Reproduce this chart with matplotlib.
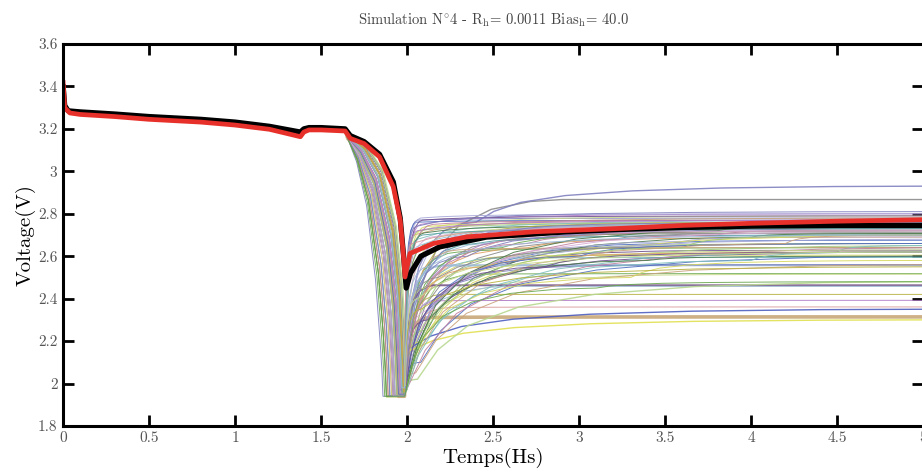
import numpy as np
import matplotlib
matplotlib.use("Agg")
import matplotlib.pyplot as plt
from matplotlib.ticker import FuncFormatter

#------------------------------------------#
# Data
# common part (black = mean, red = measured)
t_black = [0, 0.01, 0.03, 0.1, 0.3, 0.5, 0.8, 1.0, 1.2, 1.38, 1.40, 1.43, 1.5, 1.64, 1.67, 1.75,
           1.84, 1.92, 1.96, 1.98, 1.995, 2.02, 2.08, 2.19, 2.46, 2.93, 3.24, 3.6, 4.0, 4.5, 5.0]
v_black = [3.41, 3.31, 3.285, 3.28, 3.27, 3.258, 3.245, 3.232, 3.212, 3.185, 3.2, 3.206, 3.206, 3.2, 3.168, 3.14,
           3.08, 2.95, 2.78, 2.6, 2.45, 2.52, 2.6, 2.644, 2.69, 2.715, 2.726, 2.735, 2.742, 2.745, 2.745]
t_red = [0, 0.01, 0.04, 0.1, 0.3, 0.5, 0.8, 1.0, 1.2, 1.38, 1.40, 1.43, 1.5, 1.64, 1.67, 1.75,
         1.84, 1.92, 1.96, 1.978, 1.988, 2.017, 2.153, 2.347, 2.734, 3.24, 3.6, 4.0, 4.5, 5.0]
v_red = [3.43, 3.3, 3.275, 3.268, 3.258, 3.245, 3.232, 3.218, 3.198, 3.163, 3.185, 3.195, 3.195, 3.19, 3.155, 3.131,
         3.068, 2.927, 2.77, 2.613, 2.502, 2.613, 2.66, 2.691, 2.715, 2.731, 2.745, 2.755, 2.765, 2.772]

# simulated traces: dip time / dip voltage / knee time / knee voltage / final voltage
T_DIP = [1.86, 1.87, 1.88, 1.89, 1.90, 1.91, 1.92, 1.93, 1.94, 1.95,
         1.96, 1.97, 1.97, 1.98, 1.98, 1.99, 1.99, 1.96, 1.97, 1.98,
         1.99, 1.98, 1.97, 1.99, 1.98, 1.96, 1.99, 1.97, 1.98, 1.99,
         1.98, 1.97, 1.99, 1.98, 1.97, 1.99, 1.96, 1.98, 1.99, 1.97,
         1.98, 1.99, 1.97, 1.98, 1.99, 1.98, 1.97, 1.99, 1.98, 2.00,
         1.99, 1.98, 1.97, 1.99, 1.98, 1.99, 1.97, 1.98, 1.99, 1.96,
         1.98, 1.99, 1.97, 1.98, 1.99, 1.96, 1.98, 1.97, 1.99, 1.98,
         1.95, 1.94, 1.93, 1.92, 1.91, 1.90, 1.89, 1.88, 1.93, 1.92,
         1.90, 1.88, 1.99, 1.98, 1.97]
V_DIP = [1.94, 1.94, 1.935, 1.94, 1.94, 1.945, 1.94, 1.94, 1.95, 1.94,
         1.96, 1.95, 1.98, 1.96, 2.00, 1.97, 2.02, 1.95, 1.99, 1.95,
         2.05, 1.97, 1.96, 1.99, 2.01, 1.96, 1.98, 1.95, 1.99, 2.03,
         1.96, 1.98, 1.96, 2.00, 1.95, 1.97, 1.99, 1.95, 2.00, 1.96,
         1.98, 1.95, 2.01, 1.96, 1.98, 1.95, 1.97, 1.96, 1.95, 1.97,
         1.98, 1.99, 1.96, 1.95, 1.97, 2.00, 1.95, 1.96, 1.98, 1.95,
         1.99, 1.97, 1.96, 1.95, 1.96, 1.97, 2.00, 1.96, 1.98, 1.97,
         1.95, 1.94, 1.94, 1.94, 1.94, 1.94, 1.94, 1.94, 1.94, 1.94,
         1.94, 1.94, 1.99, 1.96, 1.98]
T_KNEE = [2.06, 2.30, 2.12, 2.20, 2.45, 2.08, 2.90, 2.40, 2.70, 2.13,
          2.05, 2.07, 2.04, 2.09, 2.11, 2.06, 2.15, 2.10, 2.08, 2.14,
          2.05, 2.12, 2.25, 2.50, 2.60, 2.80, 3.00, 2.40, 3.20, 2.70,
          3.50, 2.90, 2.30, 3.30, 2.60, 2.50, 3.80, 4.00, 3.60, 2.20,
          2.90, 2.40, 3.10, 2.15, 2.60, 2.18, 2.25, 2.02, 2.03, 2.06,
          2.08, 2.10, 2.05, 2.12, 2.09, 4.50, 5.00, 3.40, 2.20, 2.15,
          2.35, 2.55, 2.10, 2.04, 2.07, 2.06, 2.03, 2.09, 2.18, 2.45,
          3.00, 3.60, 4.20, 2.80, 3.30, 4.00, 2.70, 3.80, 2.35, 2.20,
          2.60, 3.10, 2.06, 2.08, 2.12]
V_KNEE = [2.77, 2.62, 2.73, 2.42, 2.66, 2.75, 2.867, 2.76, 2.68, 2.311,
          2.76, 2.72, 2.70, 2.77, 2.74, 2.68, 2.75, 2.71, 2.78, 2.69,
          2.74, 2.66, 2.70, 2.72, 2.70, 2.69, 2.71, 2.66, 2.68, 2.64,
          2.66, 2.62, 2.63, 2.62, 2.60, 2.59, 2.70, 2.69, 2.67, 2.556,
          2.55, 2.515, 2.50, 2.463, 2.458, 2.39, 2.358, 2.17, 2.16, 2.02,
          2.10, 2.25, 2.05, 2.30, 2.20, 2.62, 2.64, 2.58, 2.40, 2.35,
          2.60, 2.64, 2.45, 2.62, 2.65, 2.72, 2.66, 2.70, 2.50, 2.55,
          2.60, 2.64, 2.66, 2.55, 2.50, 2.58, 2.66, 2.72, 2.70, 2.66,
          2.72, 2.45, 2.40, 2.35, 2.55]
V_END = [2.78, 2.64, 2.79, 2.42, 2.70, 2.80, 2.867, 2.93, 2.71, 2.314,
         2.77, 2.76, 2.78, 2.79, 2.76, 2.77, 2.77, 2.75, 2.80, 2.74,
         2.81, 2.73, 2.75, 2.76, 2.74, 2.72, 2.75, 2.70, 2.71, 2.69,
         2.675, 2.66, 2.641, 2.628, 2.605, 2.594, 2.723, 2.707, 2.691, 2.558,
         2.56, 2.518, 2.515, 2.463, 2.458, 2.392, 2.361, 2.35, 2.30, 2.48,
         2.60, 2.65, 2.56, 2.62, 2.70, 2.65, 2.64, 2.60, 2.68, 2.72,
         2.73, 2.72, 2.63, 2.74, 2.76, 2.77, 2.75, 2.73, 2.66, 2.62,
         2.66, 2.70, 2.70, 2.62, 2.58, 2.62, 2.72, 2.74, 2.75, 2.72,
         2.76, 2.48, 2.62, 2.55, 2.70]

# shapes of the drop (earliest trace / red trace) and of the recovery
DROP_TF = [0, 0.25, 0.535, 0.79, 0.915, 0.97, 1.0]
DROP_VF_EARLY = [0, 0.09, 0.26, 0.55, 0.78, 0.9, 1.0]
DROP_VF_LATE = [0, 0.037, 0.13, 0.35, 0.59, 0.83, 1.0]
RISE_TF = [0, 0.04, 0.1, 0.2, 0.35, 0.55, 0.8, 1.0]
RISE_VF = [0, 0.3, 0.55, 0.74, 0.87, 0.95, 0.99, 1.0]

#------------------------------------------#
palette = ['#7f7fbf', '#6aa84f', '#c8d98a', '#b8b040', '#9bbbd9', '#b07cc6', '#d99a9a',
           '#5aa0a0', '#8a8a8a', '#e0a060', '#4f6fc0', '#a0c878', '#c9a27a', '#6f4f8f',
           '#d8d860', '#7fbfbf', '#bf7f9f', '#4a7a4a', '#a8a8d8', '#d8b0d8']
special = {6: ('#8c8c8c', 1.0), 7: ('#8080c0', 1.0), 9: ('#c8a878', 2.6),
           47: ('#4f5fc0', 1.0), 48: ('#e0e050', 1.0), 49: ('#b8d890', 1.0),
           43: ('#7a5a8a', 1.4), 39: ('#9bb8d8', 1.6)}

def build_trace(i):
    td, vd = T_DIP[i], V_DIP[i]
    tk, vk, ve = T_KNEE[i], V_KNEE[i], V_END[i]
    t0 = max(1.655, td - 0.3)
    v0 = 3.155
    w = min(max((td - 1.86) / 0.13, 0.0), 1.0)
    t = list(t_black[:13]) + [1.64]
    v = list(v_black[:13]) + [3.2]
    t += [t0 + f * (td - t0) for f in DROP_TF]
    v += [v0 + ((1 - w) * a + w * b) * (vd - v0) for a, b in zip(DROP_VF_EARLY, DROP_VF_LATE)]
    tr = max(td, 1.985)
    if tr > td:
        t.append(tr)
        v.append(vd)
    t += [tr + f * (tk - tr) for f in RISE_TF[1:]]
    v += [vd + f * (vk - vd) for f in RISE_VF[1:]]
    if tk < 5.0:
        t += [tk + f * (5.0 - tk) for f in RISE_TF[1:]]
        v += [vk + f * (ve - vk) for f in RISE_VF[1:]]
    return np.array(t), np.array(v)

#------------------------------------------#
plt.rcParams['font.family'] = ['cmr10', 'DejaVu Serif']
plt.rcParams['mathtext.fontset'] = 'cm'
plt.rcParams['axes.formatter.use_mathtext'] = True

fig = plt.figure(figsize=(9.22, 4.75), dpi=100)
ax = fig.add_axes([0.0683, 0.1032, 0.933, 0.8042])

for i in range(len(T_DIP)):
    t, v = build_trace(i)
    col, lw = special.get(i, (palette[i % len(palette)], 0.7))
    ax.plot(t, v, color=col, lw=lw, alpha=0.9)

ax.plot(t_black, v_black, color='black', lw=3.8, solid_capstyle='butt')
ax.plot(t_red, v_red, color='#e8302a', lw=3.4, solid_capstyle='butt')

ax.set_xlim(0, 5)
ax.set_ylim(1.8, 3.6)
ax.set_xticks(np.arange(0, 5.01, 0.5))
ax.set_yticks(np.arange(1.8, 3.61, 0.2))
fmt = FuncFormatter(lambda x, p: '%g' % round(x, 2))
ax.xaxis.set_major_formatter(fmt)
ax.yaxis.set_major_formatter(fmt)
ax.tick_params(direction='in', length=8, width=2, top=True, right=True,
               labelsize=11, labelcolor='#555555', pad=4)
for s in ax.spines.values():
    s.set_linewidth(2.2)

ax.set_xlabel('Temps(Hs)', fontsize=15, labelpad=2)
ax.set_ylabel('Voltage(V)', fontsize=15, labelpad=2)
ax.set_title(r'Simulation N$^{\circ}$4 - R$_{\rm h}$= 0.0011 Bias$_{\rm h}$= 40.0',
             fontsize=10.5, color='#444444', pad=14)

fig.savefig('out.png', dpi=100)
